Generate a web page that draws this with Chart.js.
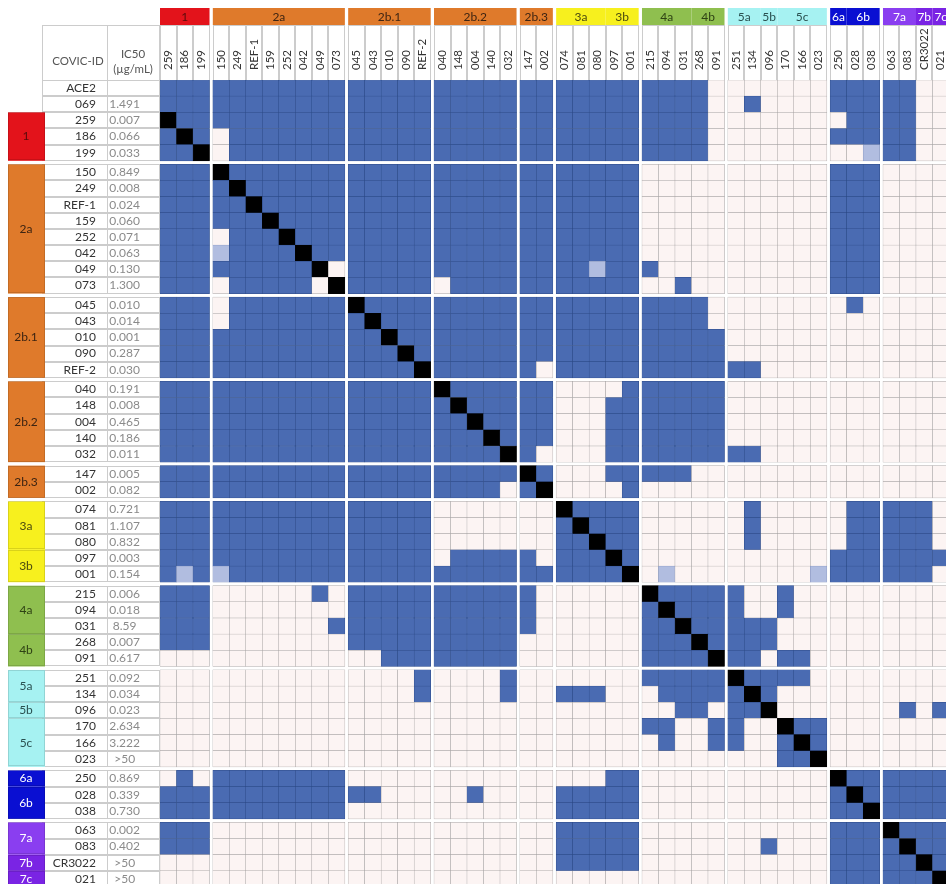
<!DOCTYPE html>
<html>
<head>
<meta charset="utf-8">
<script src="https://cdn.jsdelivr.net/npm/chart.js@4.4.1/dist/chart.umd.min.js"></script>
<style>
  html, body { margin: 0; padding: 0; overflow: hidden; background: #fff; }
</style>
</head>
<body>
<canvas id="mymatrix" width="949" height="887"></canvas>
<script>
const colIds = ['259', '186', '199', '150', '249', 'REF-1', '159', '252', '042', '049', '073',
  '045', '043', '010', '090', 'REF-2', '040', '148', '004', '140', '032', '147', '002',
  '074', '081', '080', '097', '001', '215', '094', '031', '268', '091',
  '251', '134', '096', '170', '166', '023', '250', '028', '038', '063', '083', 'CR3022', '021']
const rowIds = ['ACE2', '069'].concat(colIds)
const ic50 = ['', '1.491', '0.007', '0.066', '0.033', '0.849', '0.008', '0.024', '0.060', '0.071',
  '0.063', '0.130', '1.300', '0.010', '0.014', '0.001', '0.287', '0.030', '0.191', '0.008',
  '0.465', '0.186', '0.011', '0.005', '0.082', '0.721', '1.107', '0.832', '0.003', '0.154',
  '0.006', '0.018', '8.59', '0.007', '0.617', '0.092', '0.034', '0.023', '2.634', '3.222',
  '>50', '0.869', '0.339', '0.730', '0.002', '0.402', '>50', '>50']

const clades = ['1', '2a', '2b.1', '2b.2', '2b.3', '3a', '3b', '4a', '4b', '5a', '5b', '5c', '6a', '6b', '7a', '7b', '7c']
const cladeSizes = [3, 8, 5, 5, 2, 3, 2, 3, 2, 2, 1, 3, 1, 2, 2, 1, 1]
const cladeColors = ['#e3131b', '#df7a2b', '#df7a2b', '#df7a2b', '#df7a2b', '#f7f01e', '#f7f01e',
  '#8fbf4f', '#8fbf4f', '#a6f2f2', '#a6f2f2', '#a6f2f2', '#0a0fd2', '#0a0fd2', '#8a3ef0', '#7a24e4', '#7a24e4']
const cladeText = ['#5b0b0b', '#3d2412', '#3d2412', '#3d2412', '#3d2412', '#4a4a10', '#4a4a10',
  '#2e4214', '#2e4214', '#2a5050', '#2a5050', '#2a5050', '#ffffff', '#ffffff', '#ffffff', '#ffffff', '#ffffff']

// blocks separated by a white gap
const colBlocks = [3, 8, 5, 5, 2, 5, 5, 6, 3, 4]
const rowBlocks = [5, 8, 5, 5, 2, 5, 5, 6, 3, 4]

// B = competes, L = partial, . = no competition, X = same antibody
const competition = [
  'BBB|BBBBBBBB|BBBBB|BBBBB|BB|BBBBB|BBBB.|......|BBB|BB..',
  'BBB|BBBBBBBB|BBBBB|BBBBB|BB|BBBBB|BBBB.|.B....|BBB|BB..',
  'XBB|BBBBBBBB|BBBBB|BBBBB|BB|BBBBB|BBBB.|......|.BB|BB..',
  'BXB|.BBBBBBB|BBBBB|BBBBB|BB|BBBBB|BBBB.|......|BBB|BB..',
  'BBX|.BBBBBBB|BBBBB|BBBBB|BB|BBBBB|BBBB.|......|..L|BB..',
  'BBB|XBBBBBBB|BBBBB|BBBBB|BB|BBBBB|.....|......|BBB|....',
  'BBB|BXBBBBBB|BBBBB|BBBBB|BB|BBBBB|.....|......|BBB|....',
  'BBB|BBXBBBBB|BBBBB|BBBBB|BB|BBBBB|.....|......|BBB|....',
  'BBB|BBBXBBBB|BBBBB|BBBBB|BB|BBBBB|.....|......|BBB|....',
  'BBB|.BBBXBBB|BBBBB|BBBBB|BB|BBBBB|.....|......|BBB|....',
  'BBB|LBBBBXBB|BBBBB|BBBBB|BB|BBBBB|.....|......|BBB|....',
  'BBB|BBBBBBX.|BBBBB|BBBBB|BB|BBLBB|B....|......|BBB|....',
  'BBB|.BBBBB.X|BBBBB|.BBBB|BB|BBBBB|..B..|......|BBB|....',
  'BBB|.BBBBBBB|XBBBB|BBBBB|BB|BBBBB|BBBB.|......|.B.|....',
  'BBB|.BBBBBBB|BXBBB|BBBBB|BB|BBBBB|BBBB.|......|...|....',
  'BBB|BBBBBBBB|BBXBB|BBBBB|BB|BBBBB|BBBBB|......|...|....',
  'BBB|BBBBBBBB|BBBXB|BBBBB|BB|BBBBB|BBBBB|......|...|....',
  'BBB|BBBBBBBB|BBBBX|BBBBB|B.|BBBBB|BBBBB|BB....|...|....',
  'BBB|BBBBBBBB|BBBBB|XBBBB|BB|....B|BBBBB|......|...|....',
  'BBB|BBBBBBBB|BBBBB|BXBBB|BB|...BB|BBBBB|......|...|....',
  'BBB|BBBBBBBB|BBBBB|BBXBB|BB|...BB|BBBBB|......|...|....',
  'BBB|BBBBBBBB|BBBBB|BBBXB|BB|...BB|BBBBB|......|...|....',
  'BBB|BBBBBBBB|BBBBB|BBBBX|B.|...BB|BBBBB|BB....|...|....',
  'BBB|BBBBBBBB|BBBBB|BBBBB|XB|...BB|BBB..|......|...|....',
  'BBB|BBBBBBBB|BBBBB|BBBB.|BX|....B|.....|......|...|....',
  'BBB|BBBBBBBB|BBBBB|.....|..|XBBBB|.....|.B....|.BB|BBB.',
  'BBB|BBBBBBBB|BBBBB|.....|..|BXBBB|.....|.B....|.BB|BBB.',
  'BBB|BBBBBBBB|BBBBB|.....|..|BBXBB|.....|.B....|.BB|BBB.',
  'BBB|BBBBBBBB|BBBBB|.BBBB|B.|BBBXB|.....|......|BBB|BBBB',
  'BLB|LBBBBBBB|BBBBB|BBBBB|BB|BBBBX|.L...|.....L|BBB|BBB.',
  'BBB|......B.|BBBBB|BBBBB|B.|.....|XBBBB|B..B..|...|....',
  'BBB|........|BBBBB|BBBBB|B.|.....|BXBBB|B..B..|...|....',
  'BBB|.......B|BBBBB|BBBBB|B.|.....|BBXBB|BBB...|...|....',
  'BBB|........|BBBBB|BBBBB|..|.....|BBBXB|BBB...|...|....',
  '...|........|..BBB|BBBBB|..|.....|BBBBX|BB.BB.|...|....',
  '...|........|....B|....B|..|.....|BBBBB|XBBBB.|...|....',
  '...|........|....B|....B|..|BBB..|.BBBB|BXB...|...|....',
  '...|........|.....|.....|..|.....|..BB.|BBX...|...|.B.B',
  '...|........|.....|.....|..|.....|BB..B|B..XBB|...|....',
  '...|........|.....|.....|..|.....|.B..B|B..BXB|...|....',
  '...|........|.....|.....|..|.....|.....|...BBX|...|....',
  '.B.|BBBBBBBB|.....|.....|..|...BB|.....|......|XBB|BBBB',
  'BBB|BBBBBBBB|BB...|..B..|..|BBBBB|.....|......|BXB|BBBB',
  'BBB|BBBBBBBB|.....|.....|..|BBBBB|.....|......|BBX|BBBB',
  'BBB|........|.....|.....|..|BBBBB|.....|......|BBB|XBBB',
  'BBB|........|.....|.....|..|BBBBB|.....|..B...|BBB|BXBB',
  '...|........|.....|.....|..|BBBBB|.....|......|BBB|BBXB',
  '...|........|.....|.....|..|.....|.....|......|BBB|BBBX'
]

const cellColors = {B: '#4a6bb2', L: '#b1bde0', '.': '#fcf4f3', X: '#000000'}
const cellLines = {B: '#2c4a86', L: '#8392bb', '.': '#a3a0a0', X: '#000000'}

const gapX = 0.2
const gapY = 0.214

function starts(blocks, gap){
    let out = []
    let pos = 0
    blocks.forEach(function(n){
        for(let i = 0; i < n; i++){
            out.push(pos)
            pos++
        }
        pos += gap
    })
    return out
}

const colStart = starts(colBlocks, gapX)
const rowStart = starts(rowBlocks, gapY)
const xMax = colStart[colStart.length - 1] + 1
const yMax = rowStart[rowStart.length - 1] + 1

let cells = []
competition.forEach(function(line, r){
    line.replace(/\|/g, '').split('').forEach(function(code, c){
        cells.push({x: colStart[c] + 0.5, y: [rowStart[r], rowStart[r] + 1], code: code})
    })
})

const labelFont = {family: 'Lato', size: 12}
const colFont = {family: 'Lato', size: 11.5, lineHeight: 1.2}

function noSidePadding(axis){
    axis.paddingLeft = 0
    axis.paddingRight = 0
    axis.paddingTop = 0
    axis.paddingBottom = 0
}

const frame = {
    id: 'frame',
    beforeDraw(chart){
        const ctx = chart.ctx
        const sx = chart.scales.x
        const sy = chart.scales.y
        const top = chart.chartArea.top
        ctx.save()
        ctx.fillStyle = '#ffffff'
        ctx.fillRect(0, 0, chart.width, chart.height)

        ctx.lineWidth = 1
        ctx.strokeStyle = '#cccccc'
        ctx.beginPath()
        // header cells above the columns
        colStart.forEach(function(s){
            const l = Math.round(sx.getPixelForValue(s)) + 0.5
            const r = Math.round(sx.getPixelForValue(s + 1)) - 0.5
            ctx.moveTo(l, 25); ctx.lineTo(l, top)
            ctx.moveTo(r, 25); ctx.lineTo(r, top)
            ctx.moveTo(l, 25.5); ctx.lineTo(r, 25.5)
        })
        // id / IC50 table
        ctx.moveTo(42.5, 25); ctx.lineTo(42.5, top)
        ctx.moveTo(107.5, 25); ctx.lineTo(107.5, top)
        ctx.moveTo(159.5, 25); ctx.lineTo(159.5, top)
        ctx.moveTo(42, 25.5); ctx.lineTo(160, 25.5)
        rowStart.forEach(function(s){
            const t = Math.round(sy.getPixelForValue(s)) + 0.5
            const b = Math.round(sy.getPixelForValue(s + 1)) - 0.5
            ctx.moveTo(42, t); ctx.lineTo(160, t)
            ctx.moveTo(42, b); ctx.lineTo(160, b)
            ctx.moveTo(42.5, t); ctx.lineTo(42.5, b)
            ctx.moveTo(107.5, t); ctx.lineTo(107.5, b)
            ctx.moveTo(159.5, t); ctx.lineTo(159.5, b)
        })
        ctx.stroke()

        ctx.fillStyle = '#555555'
        ctx.font = '11.5px Lato'
        ctx.textAlign = 'center'
        ctx.textBaseline = 'middle'
        ctx.fillText('COVIC-ID', 78, 61)
        ctx.fillText('IC50', 133, 54)
        ctx.fillText('(\u00b5g/mL)', 133, 69)

        // clade bars on top and on the left
        let first = 0
        clades.forEach(function(name, k){
            const last = first + cladeSizes[k] - 1
            const l = sx.getPixelForValue(colStart[first])
            const r = sx.getPixelForValue(colStart[last] + 1)
            const t = sy.getPixelForValue(rowStart[first + 2])
            const b = sy.getPixelForValue(rowStart[last + 2] + 1)
            ctx.fillStyle = cladeColors[k]
            ctx.fillRect(l, 8, r - l, 17)
            ctx.fillRect(8, t, 37, b - t)
            ctx.strokeStyle = 'rgba(0,0,0,0.12)'
            ctx.strokeRect(8.5, Math.round(t) + 0.5, 36, Math.round(b - t) - 1)
            ctx.fillStyle = cladeText[k]
            ctx.font = '12px Lato'
            ctx.fillText(name, (l + r) / 2, 17)
            ctx.fillText(name, 26, (t + b) / 2)
            first = last + 1
        })
        ctx.restore()
    }
}

const canvasformatrix = document.getElementById('mymatrix')

new Chart(canvasformatrix, {
    type: 'bar',
    data: {
        datasets: [{
            label: 'Competition',
            data: cells,
            backgroundColor: function(c){ return c.raw ? cellColors[c.raw.code] : '#ffffff' },
            borderColor: function(c){ return c.raw ? cellLines[c.raw.code] : '#999999' },
            borderWidth: 0.5,
            borderSkipped: false,
            barPercentage: 1,
            categoryPercentage: 1
        }]
    },
    options: {
        responsive: false,
        animation: false,
        layout: {padding: 0},
        plugins: {
            legend: {display: false},
            tooltip: {enabled: false}
        },
        scales: {
            x: {
                type: 'linear',
                position: 'top',
                offset: false,
                min: 0,
                max: xMax,
                grid: {display: false},
                border: {display: false},
                afterBuildTicks: function(axis){ axis.ticks = colStart.map(function(s){ return {value: s + 0.5} }) },
                afterFit: function(axis){ axis.height = 80; noSidePadding(axis) },
                ticks: {
                    autoSkip: false,
                    minRotation: 90,
                    maxRotation: 90,
                    padding: 2,
                    // rotated labels on a top axis sit one line to the left of their tick
                    labelOffset: 11.5 * 1.2,
                    color: '#333333',
                    font: colFont,
                    callback: function(v, i){ return colIds[i] }
                }
            },
            y: {
                type: 'linear',
                position: 'left',
                reverse: true,
                weight: 0,
                min: 0,
                max: yMax,
                grid: {display: false},
                border: {display: false},
                afterBuildTicks: function(axis){ axis.ticks = rowStart.map(function(s){ return {value: s + 0.5} }) },
                afterFit: function(axis){ axis.width = 53; noSidePadding(axis) },
                ticks: {
                    autoSkip: false,
                    crossAlign: 'center',
                    padding: 12,
                    color: '#8a8a8a',
                    font: labelFont,
                    callback: function(v, i){ return ic50[i] }
                }
            },
            yid: {
                type: 'linear',
                axis: 'y',
                position: 'left',
                reverse: true,
                weight: 1,
                min: 0,
                max: yMax,
                grid: {display: false},
                border: {display: false},
                afterBuildTicks: function(axis){ axis.ticks = rowStart.map(function(s){ return {value: s + 0.5} }) },
                afterFit: function(axis){ axis.width = 107; noSidePadding(axis) },
                ticks: {
                    autoSkip: false,
                    padding: 3,
                    color: '#333333',
                    font: labelFont,
                    callback: function(v, i){ return rowIds[i] }
                }
            }
        }
    },
    plugins: [frame]
})
</script>
</body>
</html>
